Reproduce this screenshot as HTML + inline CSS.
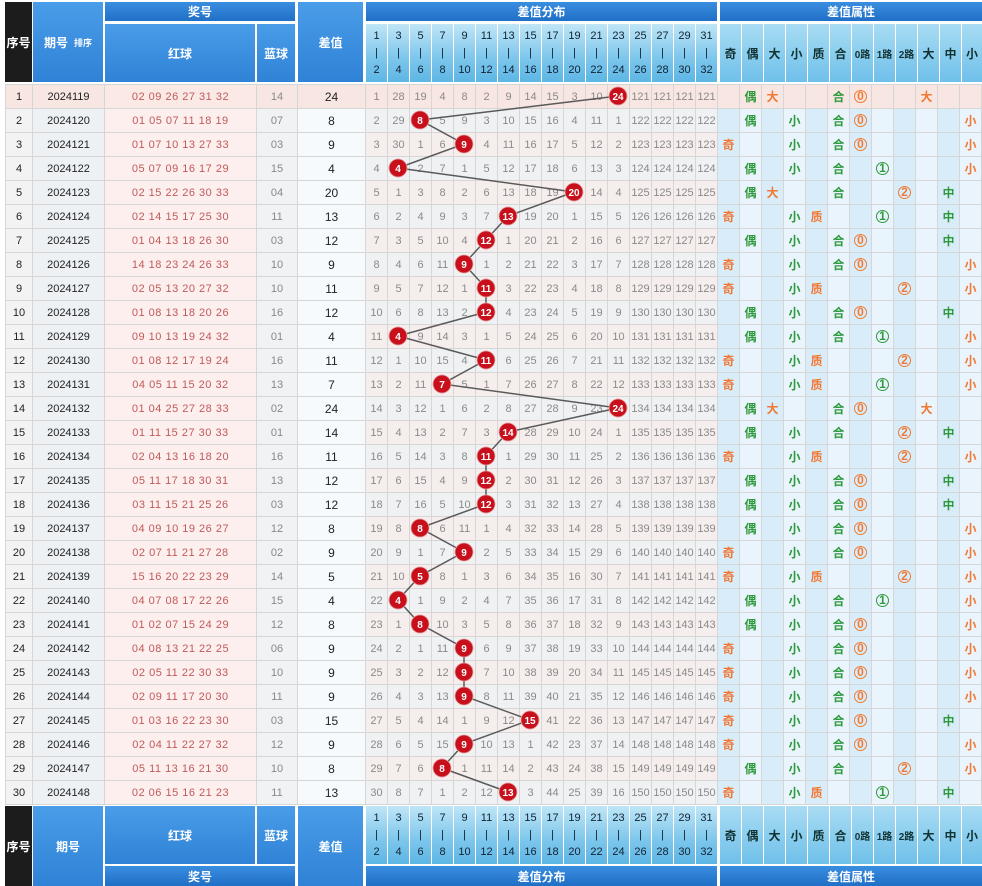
<!DOCTYPE html>
<html><head><meta charset="utf-8"><style>
*{margin:0;padding:0;box-sizing:border-box}
body{width:982px;height:886px;background:#fff;position:relative;overflow:hidden;font-family:"Liberation Sans","Noto Sans CJK SC",sans-serif}
.hd{position:absolute;color:#fff;font-weight:bold;font-size:12px;display:flex;align-items:center;justify-content:center;text-align:center}
.bl{background:linear-gradient(#4a9de8,#2f82d6)}
.bt{background:linear-gradient(#3a8ee0,#1f6fc6)}
.dk{background:#1c1c1c}
.lb{background:linear-gradient(#bfe6f7,#7cc6ec 60%,#5db6e4);color:#123;font-weight:normal;font-size:11px;line-height:17px;flex-direction:column}
.la{background:linear-gradient(#a9dcf3,#6fc0ea);color:#133;font-size:12px}
table{position:absolute;left:5px;top:84px;border-collapse:collapse;table-layout:fixed;width:976px}
td{height:24px;border:1px solid #d6d6d6;text-align:center;font-size:11px;color:#8a8a8a;padding:0;white-space:nowrap;overflow:hidden;background:#f5eeed}
tr:nth-child(even) td{background:#eff1f3}
td:nth-child(1){color:#222;background:#f3f3f3!important}
td:nth-child(2){color:#222;background:#eef1f4!important}
td:nth-child(3){color:#c05a5a;background:#fcefed!important;letter-spacing:.5px}
td:nth-child(4){color:#888;background:#f1f2f4!important}
td:nth-child(5){color:#222;background:#f6fafd!important;font-size:12px}
tr td:nth-child(n+22){background:#d9ecf9}
tr td:nth-child(n+22):nth-child(odd){background:#e9f4fc}
tr:first-child td{background:#f7e6e2!important}
tr:first-child td:nth-child(3){background:#fbe9e6!important}
.o{color:#f07a35;font-weight:bold;font-size:12px}
.g{color:#2f9a3c;font-weight:bold;font-size:12px}
i{font-style:normal;display:inline-block;width:13px;height:13px;border-radius:50%;font-size:9px;line-height:10px;border:1.5px solid;font-weight:bold}
i.o{border-color:#f07a35}i.g{border-color:#2f9a3c}
svg{position:absolute;left:0;top:0}
</style></head><body>
<div class="hd dk" style="left:5px;top:2px;width:27px;height:80px">序号</div>
<div class="hd bl" style="left:33px;top:2px;width:70px;height:80px">期号 <span style="font-size:9px;margin-left:6px">排序</span></div>
<div class="hd bt" style="left:105px;top:2px;width:190px;height:19px">奖号</div>
<div class="hd bl" style="left:105px;top:24px;width:150px;height:58px">红球</div>
<div class="hd bl" style="left:257px;top:24px;width:38px;height:58px">蓝球</div>
<div class="hd bl" style="left:298px;top:2px;width:65px;height:80px">差值</div>
<div class="hd bt" style="left:366px;top:2px;width:351px;height:19px">差值分布</div>
<div class="hd bt" style="left:720px;top:2px;width:262px;height:19px">差值属性</div>

<div class="hd dk" style="left:5px;top:806px;width:27px;height:80px">序号</div>
<div class="hd bl" style="left:33px;top:806px;width:70px;height:80px">期号</div>
<div class="hd bl" style="left:105px;top:806px;width:150px;height:58px">红球</div>
<div class="hd bl" style="left:257px;top:806px;width:38px;height:58px">蓝球</div>
<div class="hd bt" style="left:105px;top:866px;width:190px;height:20px">奖号</div>
<div class="hd bl" style="left:298px;top:806px;width:65px;height:80px">差值</div>
<div class="hd bt" style="left:366px;top:866px;width:351px;height:20px">差值分布</div>
<div class="hd bt" style="left:720px;top:866px;width:262px;height:20px">差值属性</div>

<div class="hd lb" style="left:366px;top:24px;width:21px;height:58px"><span>1</span><span>|</span><span>2</span></div>
<div class="hd lb" style="left:388px;top:24px;width:21px;height:58px"><span>3</span><span>|</span><span>4</span></div>
<div class="hd lb" style="left:410px;top:24px;width:21px;height:58px"><span>5</span><span>|</span><span>6</span></div>
<div class="hd lb" style="left:432px;top:24px;width:21px;height:58px"><span>7</span><span>|</span><span>8</span></div>
<div class="hd lb" style="left:454px;top:24px;width:21px;height:58px"><span>9</span><span>|</span><span>10</span></div>
<div class="hd lb" style="left:476px;top:24px;width:21px;height:58px"><span>11</span><span>|</span><span>12</span></div>
<div class="hd lb" style="left:498px;top:24px;width:21px;height:58px"><span>13</span><span>|</span><span>14</span></div>
<div class="hd lb" style="left:520px;top:24px;width:21px;height:58px"><span>15</span><span>|</span><span>16</span></div>
<div class="hd lb" style="left:542px;top:24px;width:21px;height:58px"><span>17</span><span>|</span><span>18</span></div>
<div class="hd lb" style="left:564px;top:24px;width:21px;height:58px"><span>19</span><span>|</span><span>20</span></div>
<div class="hd lb" style="left:586px;top:24px;width:21px;height:58px"><span>21</span><span>|</span><span>22</span></div>
<div class="hd lb" style="left:608px;top:24px;width:21px;height:58px"><span>23</span><span>|</span><span>24</span></div>
<div class="hd lb" style="left:630px;top:24px;width:21px;height:58px"><span>25</span><span>|</span><span>26</span></div>
<div class="hd lb" style="left:652px;top:24px;width:21px;height:58px"><span>27</span><span>|</span><span>28</span></div>
<div class="hd lb" style="left:674px;top:24px;width:21px;height:58px"><span>29</span><span>|</span><span>30</span></div>
<div class="hd lb" style="left:696px;top:24px;width:21px;height:58px"><span>31</span><span>|</span><span>32</span></div>

<div class="hd lb" style="left:366px;top:806px;width:21px;height:58px"><span>1</span><span>|</span><span>2</span></div>
<div class="hd lb" style="left:388px;top:806px;width:21px;height:58px"><span>3</span><span>|</span><span>4</span></div>
<div class="hd lb" style="left:410px;top:806px;width:21px;height:58px"><span>5</span><span>|</span><span>6</span></div>
<div class="hd lb" style="left:432px;top:806px;width:21px;height:58px"><span>7</span><span>|</span><span>8</span></div>
<div class="hd lb" style="left:454px;top:806px;width:21px;height:58px"><span>9</span><span>|</span><span>10</span></div>
<div class="hd lb" style="left:476px;top:806px;width:21px;height:58px"><span>11</span><span>|</span><span>12</span></div>
<div class="hd lb" style="left:498px;top:806px;width:21px;height:58px"><span>13</span><span>|</span><span>14</span></div>
<div class="hd lb" style="left:520px;top:806px;width:21px;height:58px"><span>15</span><span>|</span><span>16</span></div>
<div class="hd lb" style="left:542px;top:806px;width:21px;height:58px"><span>17</span><span>|</span><span>18</span></div>
<div class="hd lb" style="left:564px;top:806px;width:21px;height:58px"><span>19</span><span>|</span><span>20</span></div>
<div class="hd lb" style="left:586px;top:806px;width:21px;height:58px"><span>21</span><span>|</span><span>22</span></div>
<div class="hd lb" style="left:608px;top:806px;width:21px;height:58px"><span>23</span><span>|</span><span>24</span></div>
<div class="hd lb" style="left:630px;top:806px;width:21px;height:58px"><span>25</span><span>|</span><span>26</span></div>
<div class="hd lb" style="left:652px;top:806px;width:21px;height:58px"><span>27</span><span>|</span><span>28</span></div>
<div class="hd lb" style="left:674px;top:806px;width:21px;height:58px"><span>29</span><span>|</span><span>30</span></div>
<div class="hd lb" style="left:696px;top:806px;width:21px;height:58px"><span>31</span><span>|</span><span>32</span></div>

<div class="hd la" style="left:720px;top:24px;width:21px;height:58px">奇</div>
<div class="hd la" style="left:742px;top:24px;width:21px;height:58px">偶</div>
<div class="hd la" style="left:764px;top:24px;width:21px;height:58px">大</div>
<div class="hd la" style="left:786px;top:24px;width:21px;height:58px">小</div>
<div class="hd la" style="left:808px;top:24px;width:21px;height:58px">质</div>
<div class="hd la" style="left:830px;top:24px;width:21px;height:58px">合</div>
<div class="hd la" style="left:852px;top:24px;width:21px;height:58px;font-size:10px">0路</div>
<div class="hd la" style="left:874px;top:24px;width:21px;height:58px;font-size:10px">1路</div>
<div class="hd la" style="left:896px;top:24px;width:21px;height:58px;font-size:10px">2路</div>
<div class="hd la" style="left:918px;top:24px;width:21px;height:58px">大</div>
<div class="hd la" style="left:940px;top:24px;width:21px;height:58px">中</div>
<div class="hd la" style="left:962px;top:24px;width:20px;height:58px">小</div>

<div class="hd la" style="left:720px;top:806px;width:21px;height:58px">奇</div>
<div class="hd la" style="left:742px;top:806px;width:21px;height:58px">偶</div>
<div class="hd la" style="left:764px;top:806px;width:21px;height:58px">大</div>
<div class="hd la" style="left:786px;top:806px;width:21px;height:58px">小</div>
<div class="hd la" style="left:808px;top:806px;width:21px;height:58px">质</div>
<div class="hd la" style="left:830px;top:806px;width:21px;height:58px">合</div>
<div class="hd la" style="left:852px;top:806px;width:21px;height:58px;font-size:10px">0路</div>
<div class="hd la" style="left:874px;top:806px;width:21px;height:58px;font-size:10px">1路</div>
<div class="hd la" style="left:896px;top:806px;width:21px;height:58px;font-size:10px">2路</div>
<div class="hd la" style="left:918px;top:806px;width:21px;height:58px">大</div>
<div class="hd la" style="left:940px;top:806px;width:21px;height:58px">中</div>
<div class="hd la" style="left:962px;top:806px;width:20px;height:58px">小</div>

<table>
<colgroup><col style="width:27px"><col style="width:72px"><col style="width:152px"><col style="width:41px"><col style="width:68px">
<col style="width:22px"><col style="width:22px"><col style="width:22px"><col style="width:22px"><col style="width:22px"><col style="width:22px"><col style="width:22px"><col style="width:22px"><col style="width:22px"><col style="width:22px"><col style="width:22px"><col style="width:22px"><col style="width:22px"><col style="width:22px"><col style="width:22px"><col style="width:22px">
<col style="width:22px"><col style="width:22px"><col style="width:22px"><col style="width:22px"><col style="width:22px"><col style="width:22px"><col style="width:22px"><col style="width:22px"><col style="width:22px"><col style="width:22px"><col style="width:22px"><col style="width:22px"></colgroup>
<tr><td>1</td><td>2024119</td><td>02 09 26 27 31 32</td><td>14</td><td>24</td><td>1</td><td>28</td><td>19</td><td>4</td><td>8</td><td>2</td><td>9</td><td>14</td><td>15</td><td>3</td><td>10</td><td></td><td>121</td><td>121</td><td>121</td><td>121</td><td></td><td><b class=g>偶</b></td><td><b class=o>大</b></td><td></td><td></td><td><b class=g>合</b></td><td><i class=o>0</i></td><td></td><td></td><td><b class=o>大</b></td><td></td><td></td></tr>
<tr><td>2</td><td>2024120</td><td>01 05 07 11 18 19</td><td>07</td><td>8</td><td>2</td><td>29</td><td></td><td>5</td><td>9</td><td>3</td><td>10</td><td>15</td><td>16</td><td>4</td><td>11</td><td>1</td><td>122</td><td>122</td><td>122</td><td>122</td><td></td><td><b class=g>偶</b></td><td></td><td><b class=g>小</b></td><td></td><td><b class=g>合</b></td><td><i class=o>0</i></td><td></td><td></td><td></td><td></td><td><b class=o>小</b></td></tr>
<tr><td>3</td><td>2024121</td><td>01 07 10 13 27 33</td><td>03</td><td>9</td><td>3</td><td>30</td><td>1</td><td>6</td><td></td><td>4</td><td>11</td><td>16</td><td>17</td><td>5</td><td>12</td><td>2</td><td>123</td><td>123</td><td>123</td><td>123</td><td><b class=o>奇</b></td><td></td><td></td><td><b class=g>小</b></td><td></td><td><b class=g>合</b></td><td><i class=o>0</i></td><td></td><td></td><td></td><td></td><td><b class=o>小</b></td></tr>
<tr><td>4</td><td>2024122</td><td>05 07 09 16 17 29</td><td>15</td><td>4</td><td>4</td><td></td><td>2</td><td>7</td><td>1</td><td>5</td><td>12</td><td>17</td><td>18</td><td>6</td><td>13</td><td>3</td><td>124</td><td>124</td><td>124</td><td>124</td><td></td><td><b class=g>偶</b></td><td></td><td><b class=g>小</b></td><td></td><td><b class=g>合</b></td><td></td><td><i class=g>1</i></td><td></td><td></td><td></td><td><b class=o>小</b></td></tr>
<tr><td>5</td><td>2024123</td><td>02 15 22 26 30 33</td><td>04</td><td>20</td><td>5</td><td>1</td><td>3</td><td>8</td><td>2</td><td>6</td><td>13</td><td>18</td><td>19</td><td></td><td>14</td><td>4</td><td>125</td><td>125</td><td>125</td><td>125</td><td></td><td><b class=g>偶</b></td><td><b class=o>大</b></td><td></td><td></td><td><b class=g>合</b></td><td></td><td></td><td><i class=o>2</i></td><td></td><td><b class=g>中</b></td><td></td></tr>
<tr><td>6</td><td>2024124</td><td>02 14 15 17 25 30</td><td>11</td><td>13</td><td>6</td><td>2</td><td>4</td><td>9</td><td>3</td><td>7</td><td></td><td>19</td><td>20</td><td>1</td><td>15</td><td>5</td><td>126</td><td>126</td><td>126</td><td>126</td><td><b class=o>奇</b></td><td></td><td></td><td><b class=g>小</b></td><td><b class=o>质</b></td><td></td><td></td><td><i class=g>1</i></td><td></td><td></td><td><b class=g>中</b></td><td></td></tr>
<tr><td>7</td><td>2024125</td><td>01 04 13 18 26 30</td><td>03</td><td>12</td><td>7</td><td>3</td><td>5</td><td>10</td><td>4</td><td></td><td>1</td><td>20</td><td>21</td><td>2</td><td>16</td><td>6</td><td>127</td><td>127</td><td>127</td><td>127</td><td></td><td><b class=g>偶</b></td><td></td><td><b class=g>小</b></td><td></td><td><b class=g>合</b></td><td><i class=o>0</i></td><td></td><td></td><td></td><td><b class=g>中</b></td><td></td></tr>
<tr><td>8</td><td>2024126</td><td>14 18 23 24 26 33</td><td>10</td><td>9</td><td>8</td><td>4</td><td>6</td><td>11</td><td></td><td>1</td><td>2</td><td>21</td><td>22</td><td>3</td><td>17</td><td>7</td><td>128</td><td>128</td><td>128</td><td>128</td><td><b class=o>奇</b></td><td></td><td></td><td><b class=g>小</b></td><td></td><td><b class=g>合</b></td><td><i class=o>0</i></td><td></td><td></td><td></td><td></td><td><b class=o>小</b></td></tr>
<tr><td>9</td><td>2024127</td><td>02 05 13 20 27 32</td><td>10</td><td>11</td><td>9</td><td>5</td><td>7</td><td>12</td><td>1</td><td></td><td>3</td><td>22</td><td>23</td><td>4</td><td>18</td><td>8</td><td>129</td><td>129</td><td>129</td><td>129</td><td><b class=o>奇</b></td><td></td><td></td><td><b class=g>小</b></td><td><b class=o>质</b></td><td></td><td></td><td></td><td><i class=o>2</i></td><td></td><td></td><td><b class=o>小</b></td></tr>
<tr><td>10</td><td>2024128</td><td>01 08 13 18 20 26</td><td>16</td><td>12</td><td>10</td><td>6</td><td>8</td><td>13</td><td>2</td><td></td><td>4</td><td>23</td><td>24</td><td>5</td><td>19</td><td>9</td><td>130</td><td>130</td><td>130</td><td>130</td><td></td><td><b class=g>偶</b></td><td></td><td><b class=g>小</b></td><td></td><td><b class=g>合</b></td><td><i class=o>0</i></td><td></td><td></td><td></td><td><b class=g>中</b></td><td></td></tr>
<tr><td>11</td><td>2024129</td><td>09 10 13 19 24 32</td><td>01</td><td>4</td><td>11</td><td></td><td>9</td><td>14</td><td>3</td><td>1</td><td>5</td><td>24</td><td>25</td><td>6</td><td>20</td><td>10</td><td>131</td><td>131</td><td>131</td><td>131</td><td></td><td><b class=g>偶</b></td><td></td><td><b class=g>小</b></td><td></td><td><b class=g>合</b></td><td></td><td><i class=g>1</i></td><td></td><td></td><td></td><td><b class=o>小</b></td></tr>
<tr><td>12</td><td>2024130</td><td>01 08 12 17 19 24</td><td>16</td><td>11</td><td>12</td><td>1</td><td>10</td><td>15</td><td>4</td><td></td><td>6</td><td>25</td><td>26</td><td>7</td><td>21</td><td>11</td><td>132</td><td>132</td><td>132</td><td>132</td><td><b class=o>奇</b></td><td></td><td></td><td><b class=g>小</b></td><td><b class=o>质</b></td><td></td><td></td><td></td><td><i class=o>2</i></td><td></td><td></td><td><b class=o>小</b></td></tr>
<tr><td>13</td><td>2024131</td><td>04 05 11 15 20 32</td><td>13</td><td>7</td><td>13</td><td>2</td><td>11</td><td></td><td>5</td><td>1</td><td>7</td><td>26</td><td>27</td><td>8</td><td>22</td><td>12</td><td>133</td><td>133</td><td>133</td><td>133</td><td><b class=o>奇</b></td><td></td><td></td><td><b class=g>小</b></td><td><b class=o>质</b></td><td></td><td></td><td><i class=g>1</i></td><td></td><td></td><td></td><td><b class=o>小</b></td></tr>
<tr><td>14</td><td>2024132</td><td>01 04 25 27 28 33</td><td>02</td><td>24</td><td>14</td><td>3</td><td>12</td><td>1</td><td>6</td><td>2</td><td>8</td><td>27</td><td>28</td><td>9</td><td>23</td><td></td><td>134</td><td>134</td><td>134</td><td>134</td><td></td><td><b class=g>偶</b></td><td><b class=o>大</b></td><td></td><td></td><td><b class=g>合</b></td><td><i class=o>0</i></td><td></td><td></td><td><b class=o>大</b></td><td></td><td></td></tr>
<tr><td>15</td><td>2024133</td><td>01 11 15 27 30 33</td><td>01</td><td>14</td><td>15</td><td>4</td><td>13</td><td>2</td><td>7</td><td>3</td><td></td><td>28</td><td>29</td><td>10</td><td>24</td><td>1</td><td>135</td><td>135</td><td>135</td><td>135</td><td></td><td><b class=g>偶</b></td><td></td><td><b class=g>小</b></td><td></td><td><b class=g>合</b></td><td></td><td></td><td><i class=o>2</i></td><td></td><td><b class=g>中</b></td><td></td></tr>
<tr><td>16</td><td>2024134</td><td>02 04 13 16 18 20</td><td>16</td><td>11</td><td>16</td><td>5</td><td>14</td><td>3</td><td>8</td><td></td><td>1</td><td>29</td><td>30</td><td>11</td><td>25</td><td>2</td><td>136</td><td>136</td><td>136</td><td>136</td><td><b class=o>奇</b></td><td></td><td></td><td><b class=g>小</b></td><td><b class=o>质</b></td><td></td><td></td><td></td><td><i class=o>2</i></td><td></td><td></td><td><b class=o>小</b></td></tr>
<tr><td>17</td><td>2024135</td><td>05 11 17 18 30 31</td><td>13</td><td>12</td><td>17</td><td>6</td><td>15</td><td>4</td><td>9</td><td></td><td>2</td><td>30</td><td>31</td><td>12</td><td>26</td><td>3</td><td>137</td><td>137</td><td>137</td><td>137</td><td></td><td><b class=g>偶</b></td><td></td><td><b class=g>小</b></td><td></td><td><b class=g>合</b></td><td><i class=o>0</i></td><td></td><td></td><td></td><td><b class=g>中</b></td><td></td></tr>
<tr><td>18</td><td>2024136</td><td>03 11 15 21 25 26</td><td>03</td><td>12</td><td>18</td><td>7</td><td>16</td><td>5</td><td>10</td><td></td><td>3</td><td>31</td><td>32</td><td>13</td><td>27</td><td>4</td><td>138</td><td>138</td><td>138</td><td>138</td><td></td><td><b class=g>偶</b></td><td></td><td><b class=g>小</b></td><td></td><td><b class=g>合</b></td><td><i class=o>0</i></td><td></td><td></td><td></td><td><b class=g>中</b></td><td></td></tr>
<tr><td>19</td><td>2024137</td><td>04 09 10 19 26 27</td><td>12</td><td>8</td><td>19</td><td>8</td><td></td><td>6</td><td>11</td><td>1</td><td>4</td><td>32</td><td>33</td><td>14</td><td>28</td><td>5</td><td>139</td><td>139</td><td>139</td><td>139</td><td></td><td><b class=g>偶</b></td><td></td><td><b class=g>小</b></td><td></td><td><b class=g>合</b></td><td><i class=o>0</i></td><td></td><td></td><td></td><td></td><td><b class=o>小</b></td></tr>
<tr><td>20</td><td>2024138</td><td>02 07 11 21 27 28</td><td>02</td><td>9</td><td>20</td><td>9</td><td>1</td><td>7</td><td></td><td>2</td><td>5</td><td>33</td><td>34</td><td>15</td><td>29</td><td>6</td><td>140</td><td>140</td><td>140</td><td>140</td><td><b class=o>奇</b></td><td></td><td></td><td><b class=g>小</b></td><td></td><td><b class=g>合</b></td><td><i class=o>0</i></td><td></td><td></td><td></td><td></td><td><b class=o>小</b></td></tr>
<tr><td>21</td><td>2024139</td><td>15 16 20 22 23 29</td><td>14</td><td>5</td><td>21</td><td>10</td><td></td><td>8</td><td>1</td><td>3</td><td>6</td><td>34</td><td>35</td><td>16</td><td>30</td><td>7</td><td>141</td><td>141</td><td>141</td><td>141</td><td><b class=o>奇</b></td><td></td><td></td><td><b class=g>小</b></td><td><b class=o>质</b></td><td></td><td></td><td></td><td><i class=o>2</i></td><td></td><td></td><td><b class=o>小</b></td></tr>
<tr><td>22</td><td>2024140</td><td>04 07 08 17 22 26</td><td>15</td><td>4</td><td>22</td><td></td><td>1</td><td>9</td><td>2</td><td>4</td><td>7</td><td>35</td><td>36</td><td>17</td><td>31</td><td>8</td><td>142</td><td>142</td><td>142</td><td>142</td><td></td><td><b class=g>偶</b></td><td></td><td><b class=g>小</b></td><td></td><td><b class=g>合</b></td><td></td><td><i class=g>1</i></td><td></td><td></td><td></td><td><b class=o>小</b></td></tr>
<tr><td>23</td><td>2024141</td><td>01 02 07 15 24 29</td><td>12</td><td>8</td><td>23</td><td>1</td><td></td><td>10</td><td>3</td><td>5</td><td>8</td><td>36</td><td>37</td><td>18</td><td>32</td><td>9</td><td>143</td><td>143</td><td>143</td><td>143</td><td></td><td><b class=g>偶</b></td><td></td><td><b class=g>小</b></td><td></td><td><b class=g>合</b></td><td><i class=o>0</i></td><td></td><td></td><td></td><td></td><td><b class=o>小</b></td></tr>
<tr><td>24</td><td>2024142</td><td>04 08 13 21 22 25</td><td>06</td><td>9</td><td>24</td><td>2</td><td>1</td><td>11</td><td></td><td>6</td><td>9</td><td>37</td><td>38</td><td>19</td><td>33</td><td>10</td><td>144</td><td>144</td><td>144</td><td>144</td><td><b class=o>奇</b></td><td></td><td></td><td><b class=g>小</b></td><td></td><td><b class=g>合</b></td><td><i class=o>0</i></td><td></td><td></td><td></td><td></td><td><b class=o>小</b></td></tr>
<tr><td>25</td><td>2024143</td><td>02 05 11 22 30 33</td><td>10</td><td>9</td><td>25</td><td>3</td><td>2</td><td>12</td><td></td><td>7</td><td>10</td><td>38</td><td>39</td><td>20</td><td>34</td><td>11</td><td>145</td><td>145</td><td>145</td><td>145</td><td><b class=o>奇</b></td><td></td><td></td><td><b class=g>小</b></td><td></td><td><b class=g>合</b></td><td><i class=o>0</i></td><td></td><td></td><td></td><td></td><td><b class=o>小</b></td></tr>
<tr><td>26</td><td>2024144</td><td>02 09 11 17 20 30</td><td>11</td><td>9</td><td>26</td><td>4</td><td>3</td><td>13</td><td></td><td>8</td><td>11</td><td>39</td><td>40</td><td>21</td><td>35</td><td>12</td><td>146</td><td>146</td><td>146</td><td>146</td><td><b class=o>奇</b></td><td></td><td></td><td><b class=g>小</b></td><td></td><td><b class=g>合</b></td><td><i class=o>0</i></td><td></td><td></td><td></td><td></td><td><b class=o>小</b></td></tr>
<tr><td>27</td><td>2024145</td><td>01 03 16 22 23 30</td><td>03</td><td>15</td><td>27</td><td>5</td><td>4</td><td>14</td><td>1</td><td>9</td><td>12</td><td></td><td>41</td><td>22</td><td>36</td><td>13</td><td>147</td><td>147</td><td>147</td><td>147</td><td><b class=o>奇</b></td><td></td><td></td><td><b class=g>小</b></td><td></td><td><b class=g>合</b></td><td><i class=o>0</i></td><td></td><td></td><td></td><td><b class=g>中</b></td><td></td></tr>
<tr><td>28</td><td>2024146</td><td>02 04 11 22 27 32</td><td>12</td><td>9</td><td>28</td><td>6</td><td>5</td><td>15</td><td></td><td>10</td><td>13</td><td>1</td><td>42</td><td>23</td><td>37</td><td>14</td><td>148</td><td>148</td><td>148</td><td>148</td><td><b class=o>奇</b></td><td></td><td></td><td><b class=g>小</b></td><td></td><td><b class=g>合</b></td><td><i class=o>0</i></td><td></td><td></td><td></td><td></td><td><b class=o>小</b></td></tr>
<tr><td>29</td><td>2024147</td><td>05 11 13 16 21 30</td><td>10</td><td>8</td><td>29</td><td>7</td><td>6</td><td></td><td>1</td><td>11</td><td>14</td><td>2</td><td>43</td><td>24</td><td>38</td><td>15</td><td>149</td><td>149</td><td>149</td><td>149</td><td></td><td><b class=g>偶</b></td><td></td><td><b class=g>小</b></td><td></td><td><b class=g>合</b></td><td></td><td></td><td><i class=o>2</i></td><td></td><td></td><td><b class=o>小</b></td></tr>
<tr><td>30</td><td>2024148</td><td>02 06 15 16 21 23</td><td>11</td><td>13</td><td>30</td><td>8</td><td>7</td><td>1</td><td>2</td><td>12</td><td></td><td>3</td><td>44</td><td>25</td><td>39</td><td>16</td><td>150</td><td>150</td><td>150</td><td>150</td><td><b class=o>奇</b></td><td></td><td></td><td><b class=g>小</b></td><td><b class=o>质</b></td><td></td><td></td><td><i class=g>1</i></td><td></td><td></td><td><b class=g>中</b></td><td></td></tr>
</table>

<svg width="982" height="886" viewBox="0 0 982 886">
<polyline fill="none" stroke="#5a5a5a" stroke-width="1.5" points="618,96 420,120 464,144 398,168 574,192 508,216 486,240 464,264 486,288 486,312 398,336 486,360 442,384 618,408 508,432 486,456 486,480 486,504 420,528 464,552 420,576 398,600 420,624 464,648 464,672 464,696 530,720 464,744 442,768 508,792"/>
<g fill="#c8101c" stroke="#e8a0a0" stroke-width="0.8">
<circle cx="618" cy="96" r="9"/><circle cx="420" cy="120" r="9"/><circle cx="464" cy="144" r="9"/><circle cx="398" cy="168" r="9"/><circle cx="574" cy="192" r="9"/><circle cx="508" cy="216" r="9"/><circle cx="486" cy="240" r="9"/><circle cx="464" cy="264" r="9"/><circle cx="486" cy="288" r="9"/><circle cx="486" cy="312" r="9"/><circle cx="398" cy="336" r="9"/><circle cx="486" cy="360" r="9"/><circle cx="442" cy="384" r="9"/><circle cx="618" cy="408" r="9"/><circle cx="508" cy="432" r="9"/><circle cx="486" cy="456" r="9"/><circle cx="486" cy="480" r="9"/><circle cx="486" cy="504" r="9"/><circle cx="420" cy="528" r="9"/><circle cx="464" cy="552" r="9"/><circle cx="420" cy="576" r="9"/><circle cx="398" cy="600" r="9"/><circle cx="420" cy="624" r="9"/><circle cx="464" cy="648" r="9"/><circle cx="464" cy="672" r="9"/><circle cx="464" cy="696" r="9"/><circle cx="530" cy="720" r="9"/><circle cx="464" cy="744" r="9"/><circle cx="442" cy="768" r="9"/><circle cx="508" cy="792" r="9"/>
</g>
<g fill="#fff" font-family="Liberation Sans, sans-serif" font-size="10" font-weight="bold" text-anchor="middle">
<text x="618" y="100">24</text><text x="420" y="124">8</text><text x="464" y="148">9</text><text x="398" y="172">4</text><text x="574" y="196">20</text><text x="508" y="220">13</text><text x="486" y="244">12</text><text x="464" y="268">9</text><text x="486" y="292">11</text><text x="486" y="316">12</text><text x="398" y="340">4</text><text x="486" y="364">11</text><text x="442" y="388">7</text><text x="618" y="412">24</text><text x="508" y="436">14</text><text x="486" y="460">11</text><text x="486" y="484">12</text><text x="486" y="508">12</text><text x="420" y="532">8</text><text x="464" y="556">9</text><text x="420" y="580">5</text><text x="398" y="604">4</text><text x="420" y="628">8</text><text x="464" y="652">9</text><text x="464" y="676">9</text><text x="464" y="700">9</text><text x="530" y="724">15</text><text x="464" y="748">9</text><text x="442" y="772">8</text><text x="508" y="796">13</text>
</g>
</svg>
</body></html>
